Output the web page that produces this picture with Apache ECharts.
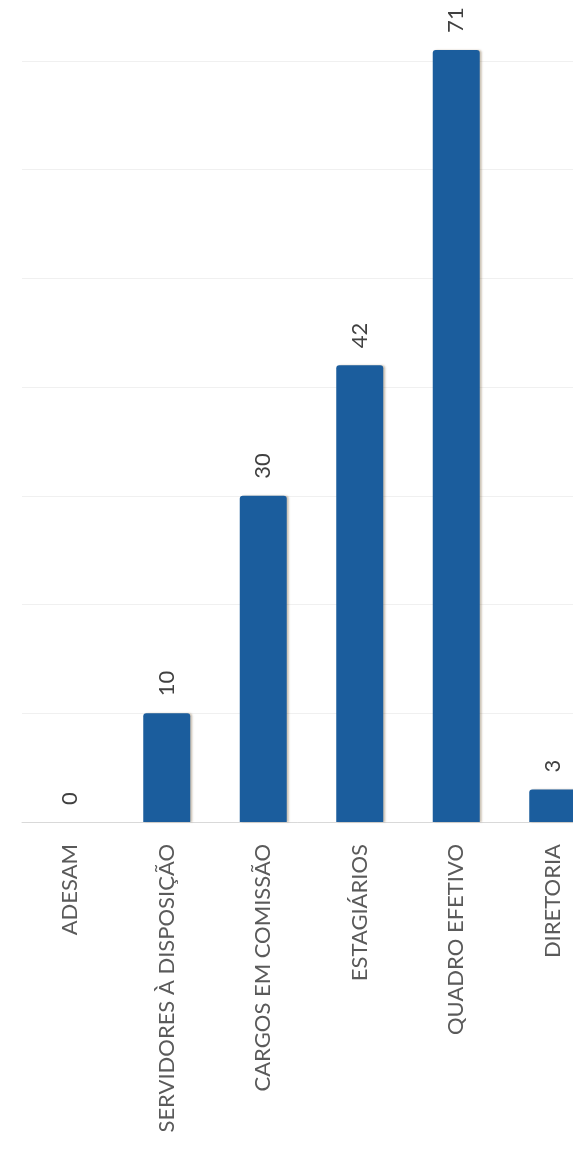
<!DOCTYPE html>
<html><head><meta charset="utf-8">
<script src="https://cdn.jsdelivr.net/npm/echarts@6/dist/echarts.min.js"></script>
<style>html,body{margin:0;padding:0;background:#fff}#c{width:573px;height:1151px}</style>
</head><body><div id="c"></div>
<script>
const categories = ['ADESAM', 'SERVIDORES À DISPOSIÇÃO', 'CARGOS EM COMISSÃO', 'ESTAGIÁRIOS', 'QUADRO EFETIVO', 'DIRETORIA'];
const values = [0, 10, 30, 42, 71, 3];

const chart = echarts.init(document.getElementById('c'), null, {renderer: 'canvas'});
chart.setOption({
  animation: false,
  backgroundColor: '#ffffff',
  grid: {left: 22, width: 579, top: -48, height: 870, outerBoundsMode: 'none', containLabel: false},
  xAxis: {
    type: 'category', data: categories,
    axisLine: {show: true, lineStyle: {color: '#d9d9d9', width: 1}},
    axisTick: {show: false},
    axisLabel: {rotate: 90, margin: 22, fontFamily: 'Lato', fontSize: 22, color: '#5a5a5a'}
  },
  yAxis: {
    type: 'value', min: 0, max: 80, interval: 10,
    axisLine: {show: false}, axisTick: {show: false}, axisLabel: {show: false},
    splitLine: {lineStyle: {color: '#f0f0f0', width: 1}}
  },
  series: [{
    type: 'bar', data: values, barWidth: 47,
    itemStyle: {color: '#1b5d9d', borderRadius: [3,3,0,0], shadowColor: 'rgba(110,80,40,0.35)', shadowBlur: 2, shadowOffsetX: 2},
    label: {show: true, position: 'top', rotate: 90, align: 'left', verticalAlign: 'middle', distance: 17,
      fontFamily: 'Lato', fontSize: 22, color: '#404040'}
  }]
});
</script></body></html>
